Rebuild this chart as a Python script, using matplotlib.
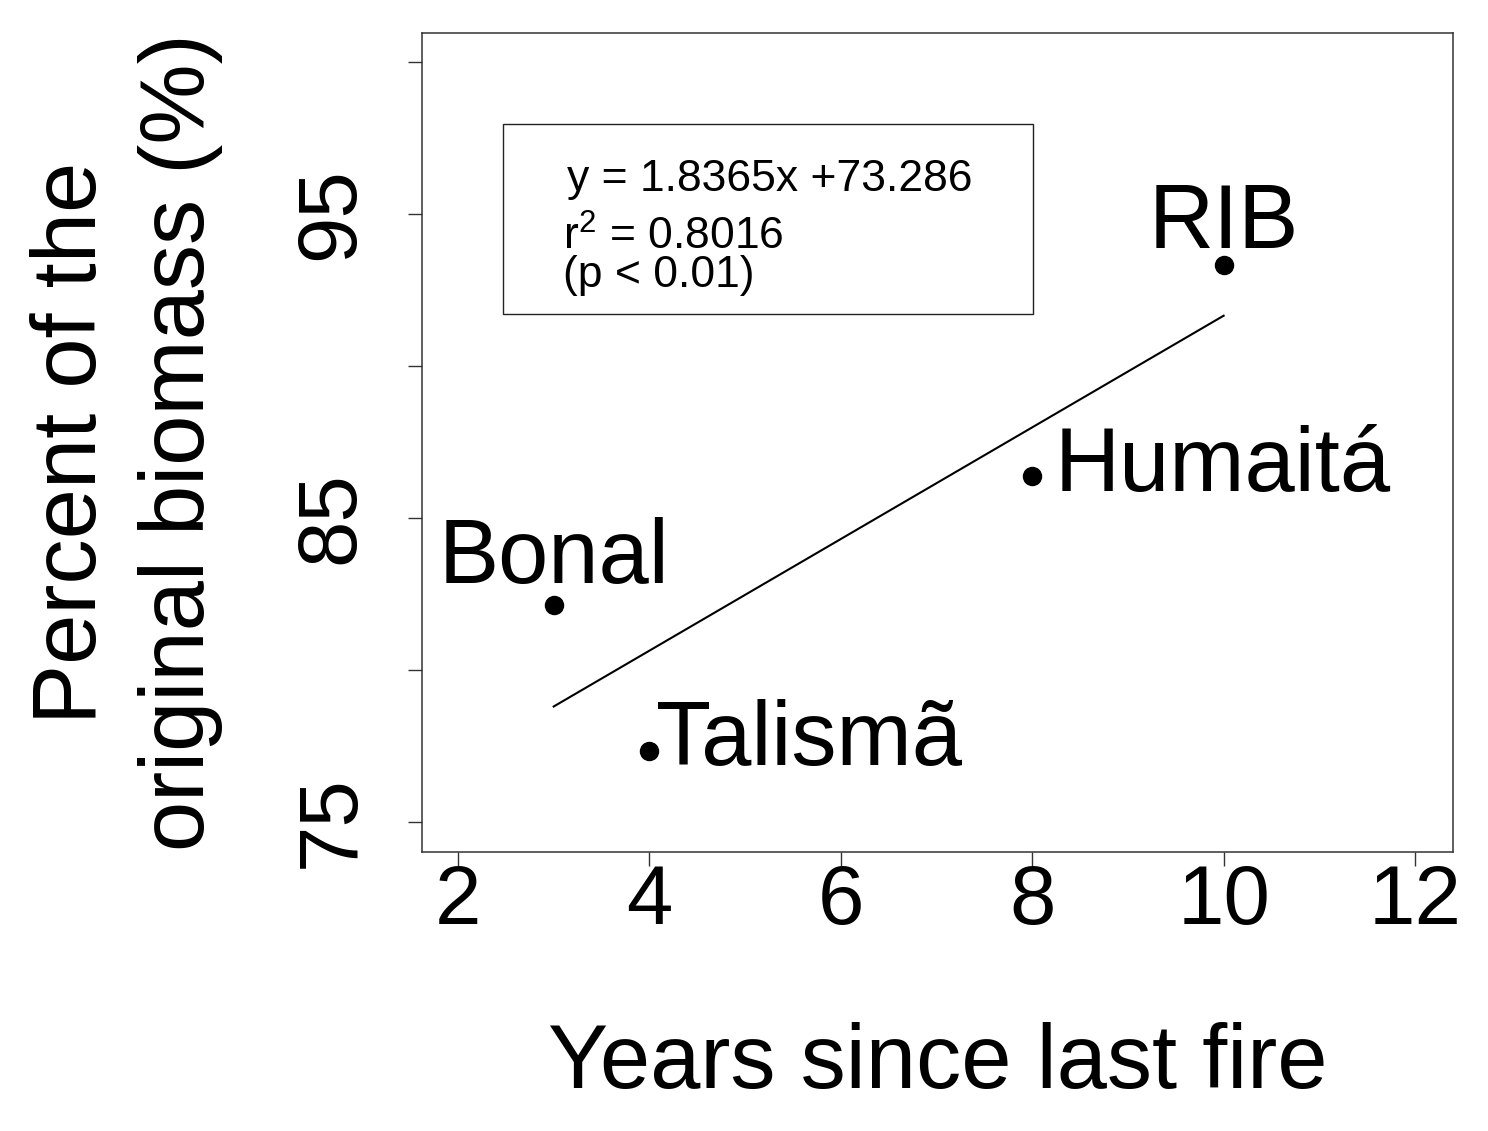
import matplotlib
matplotlib.use('Agg')
import matplotlib.pyplot as plt
from matplotlib.patches import Rectangle

plt.rcParams['font.family'] = ['Liberation Sans', 'DejaVu Sans']
plt.rcParams['mathtext.fontset'] = 'custom'
plt.rcParams['mathtext.rm'] = 'Liberation Sans'

# data
sites = ['Bonal', 'Talismã', 'Humaitá', 'RIB']
years = [3, 4, 8, 10]
biomass_pct = [82.14, 77.34, 86.38, 93.32]

slope = 1.8365
intercept = 73.286
fit_x = [3, 10]

x_ticks = [2, 4, 6, 8, 10, 12]
y_ticks = [75, 80, 85, 90, 95, 100]
y_tick_labels = ['75', '', '85', '', '95', '']

fig = plt.figure(figsize=(14.88, 11.31), dpi=100)
ax = fig.add_axes([0.2836, 0.2467, 0.6929, 0.7241])

ax.plot(years, biomass_pct, 'o', color='black', ms=13)
fit_y = [slope * x + intercept for x in fit_x]
ax.plot(fit_x, fit_y, color='black', lw=1.5)

# point labels (offsets in points)
offsets = {
    'Bonal': ((0, 16), 'center'),
    'Talismã': ((5, -10), 'left'),
    'Humaitá': ((16, -11), 'left'),
    'RIB': ((0, 12), 'center'),
}
for name, x, y in zip(sites, years, biomass_pct):
    off, ha = offsets[name]
    ax.annotate(name, (x, y), xytext=off, textcoords='offset points',
                ha=ha, va='baseline', fontsize=65)

# equation box
ax.add_patch(Rectangle((0.0786, 0.657), 0.514, 0.232, transform=ax.transAxes,
                       fill=False, lw=1.0, edgecolor='#222222'))
ax.text(0.1406, 0.807, 'y = 1.8365x +73.286', transform=ax.transAxes,
        fontsize=32, va='baseline', ha='left')
ax.text(0.137, 0.736, r'$\mathregular{r^2}$ = 0.8016', transform=ax.transAxes,
        fontsize=32, va='baseline', ha='left')
ax.text(0.137, 0.690, '(p < 0.01)', transform=ax.transAxes,
        fontsize=32, va='baseline', ha='left')

ax.set_xlim(1.624, 12.397)
ax.set_ylim(74.01, 100.95)
ax.set_xticks(x_ticks)
ax.set_yticks(y_ticks)
ax.set_yticklabels(y_tick_labels)

ax.tick_params(axis='both', direction='out', length=10, width=1.0,
               color='#333333', labelsize=60)
ax.tick_params(axis='x', pad=-2)
ax.tick_params(axis='y', pad=27)
for lab in ax.get_yticklabels():
    lab.set_rotation(90)
    lab.set_va('center')

for sp in ax.spines.values():
    sp.set_linewidth(1.1)
    sp.set_color('#333333')

ax.set_xlabel('Years since last fire', fontsize=65, va='baseline')
ax.xaxis.set_label_coords(0.5, -0.288)
ax.set_ylabel('Percent of the\noriginal biomass (%)', fontsize=65,
              va='baseline', linespacing=1.36)
ax.yaxis.set_label_coords(-0.234, 0.5)

fig.savefig('out.png', dpi=100)
